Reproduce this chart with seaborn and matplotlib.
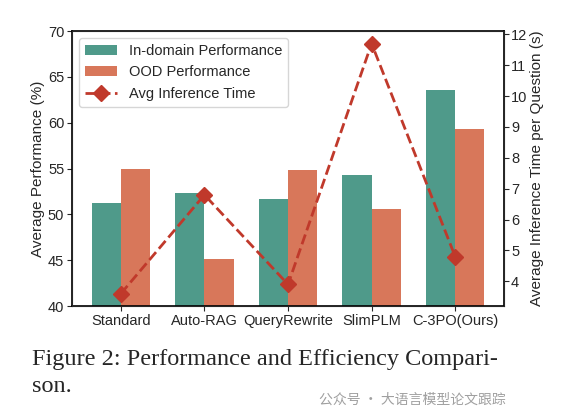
import matplotlib
matplotlib.use("Agg")
import matplotlib.pyplot as plt
import seaborn as sns
import pandas as pd

methods = ["Standard", "Auto-RAG", "QueryRewrite", "SlimPLM", "C-3PO(Ours)"]
in_domain = [51.3, 52.3, 51.7, 54.3, 63.6]
ood = [55.0, 45.1, 54.8, 50.6, 59.3]
inf_time = [3.6, 6.8, 3.9, 11.7, 4.8]

teal = "#4f9a8a"
orange = "#d8775a"
red = "#c0392b"

df = pd.DataFrame({
    "Method": methods * 2,
    "Score": in_domain + ood,
    "Kind": ["In-domain Performance"] * 5 + ["OOD Performance"] * 5,
})

sns.set_style("white")
plt.rcParams["font.family"] = ["Liberation Sans", "DejaVu Sans"]

fig = plt.figure(figsize=(5.62, 4.2), dpi=100)
ax = fig.add_axes([0.128, 0.271, 0.769, 0.655])

sns.barplot(data=df, x="Method", y="Score", hue="Kind", palette=[teal, orange],
            width=0.7, ax=ax, saturation=1, linewidth=0)
ax.set_ylim(40, 70)
ax.set_xlim(-0.585, 4.585)
ax.set_xlabel("")
ax.set_ylabel("Average Performance (%)", fontsize=11, labelpad=2)
ax.tick_params(labelsize=10.5, length=3.5, pad=2, left=True, bottom=True)
for s in ax.spines.values():
    s.set_linewidth(1.2)
    s.set_color("black")

ax2 = ax.twinx()
ax2.plot(range(len(methods)), inf_time, color=red, linestyle="--", linewidth=2,
         marker="D", markersize=8, label="Avg Inference Time")
ax2.set_ylim(3.195, 12.105)
ax2.set_yticks(range(4, 13))
ax2.set_ylabel("Average Inference Time per Question (s)", fontsize=11, labelpad=2)
ax2.tick_params(labelsize=10.5, length=3.5, pad=1.5, right=True)

h1, l1 = ax.get_legend_handles_labels()
h2, l2 = ax2.get_legend_handles_labels()
ax.get_legend().remove()
ax2.legend(h1 + h2, l1 + l2, loc="upper left", fontsize=10.5, frameon=True,
           handlelength=2.2)

fig.text(0.057, 0.131, "Figure 2: Performance and Efficiency Compari-",
         family=["Liberation Serif"], fontsize=17.5, va="baseline")
fig.text(0.057, 0.066, "son.",
         family=["Liberation Serif"], fontsize=17.5, va="baseline")
fig.text(0.9, 0.04, "公众号 · 大语言模型论文跟踪", ha="right", va="baseline",
         family=["Noto Sans CJK SC", "DejaVu Sans"], fontsize=10, color="#a0a0a0")

fig.savefig("out.png", dpi=100)
